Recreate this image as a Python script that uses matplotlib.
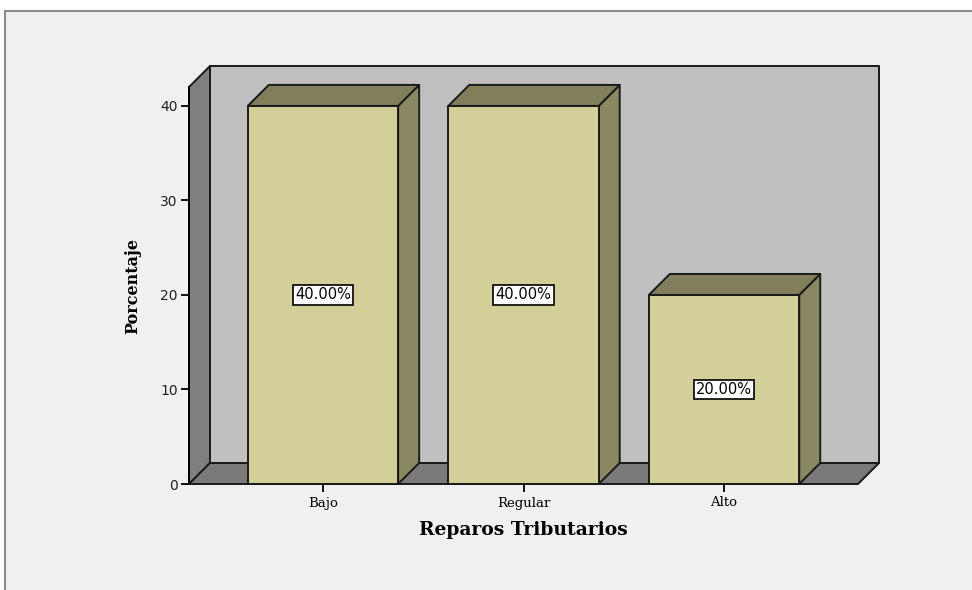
import matplotlib
matplotlib.use("Agg")
import matplotlib.pyplot as plt
from matplotlib.patches import Polygon, Rectangle
from matplotlib.transforms import IdentityTransform

# Reparos tributarios - porcentaje por nivel
categories = ["Bajo", "Regular", "Alto"]
percentages = [40.0, 40.0, 20.0]
y_ticks = [0, 10, 20, 30, 40]

# 3D look: depth of the box in pixels (right, up)
DEPTH_X, DEPTH_Y = 21, 21
BAR_WIDTH = 0.75
X_MIN, X_MAX = -0.668, 2.668
Y_MAX = 42.0

FRONT = "#d3cf98"
TOP = "#807e5b"
SIDE = "#8a8862"

fig = plt.figure(figsize=(9.72, 5.90), dpi=100, facecolor="white")

# light grey chart area with its frame
fig.add_artist(Rectangle((5 / 972, -0.05), 1.1, 1 - 11 / 590 + 0.05,
                         transform=fig.transFigure, facecolor="#f0f0f0",
                         edgecolor="#8a8a8a", linewidth=1.5, zorder=-5))

ax = fig.add_axes([189 / 972, 106 / 590, 669 / 972, 397 / 590])
ax.set_xlim(X_MIN, X_MAX)
ax.set_ylim(0, Y_MAX)
ax.set_autoscale_on(False)
ax.patch.set_visible(False)
for side in ["top", "right", "bottom"]:
    ax.spines[side].set_visible(False)
ax.spines["left"].set_color("black")
ax.spines["left"].set_linewidth(1.3)


def pt(x, y, back=False):
    px, py = ax.transData.transform((x, y))
    if back:
        px += DEPTH_X
        py += DEPTH_Y
    return (px, py)


def face(points, color, z=1):
    poly = Polygon(points, closed=True, facecolor=color, edgecolor="#1a1a1a",
                   linewidth=1.4, transform=IdentityTransform(), zorder=z,
                   clip_on=False, joinstyle="round")
    ax.add_artist(poly)


# back wall, left wall and floor
face([pt(X_MIN, 0, True), pt(X_MAX, 0, True), pt(X_MAX, Y_MAX, True),
      pt(X_MIN, Y_MAX, True)], "#c0c0c0", 0.5)
face([pt(X_MIN, 0), pt(X_MIN, Y_MAX), pt(X_MIN, Y_MAX, True),
      pt(X_MIN, 0, True)], "#7f7f7f", 0.6)
face([pt(X_MIN, 0), pt(X_MAX, 0), pt(X_MAX, 0, True),
      pt(X_MIN, 0, True)], "#7a7a7a", 0.6)

# bars
for i, v in enumerate(percentages):
    x0, x1 = i - BAR_WIDTH / 2, i + BAR_WIDTH / 2
    face([pt(x1, 0), pt(x1, v), pt(x1, v, True), pt(x1, 0, True)], SIDE, 1)
    face([pt(x0, v), pt(x1, v), pt(x1, v, True), pt(x0, v, True)], TOP, 1)
    face([pt(x0, 0), pt(x1, 0), pt(x1, v), pt(x0, v)], FRONT, 1.1)
    ax.text(i, v / 2, f"{v:.2f}%", ha="center", va="center", fontsize=10.5,
            family="DejaVu Sans", color="black", zorder=3,
            bbox=dict(boxstyle="square,pad=0.15", facecolor="white",
                      edgecolor="black", linewidth=1.2))

ax.set_yticks(y_ticks)
ax.set_yticklabels([str(t) for t in y_ticks], fontsize=10, color="#222222")
ax.tick_params(axis="y", direction="out", length=6, width=1.3, pad=2)
ax.set_xticks(range(len(categories)))
ax.set_xticklabels(categories, fontsize=9.5, family="DejaVu Serif")
ax.tick_params(axis="x", direction="out", length=6, width=1.3, pad=3)

ax.set_ylabel("Porcentaje", fontsize=11.5, family="DejaVu Serif",
              fontweight="bold", labelpad=14)
ax.set_xlabel("Reparos Tributarios", fontsize=13.5, family="DejaVu Serif",
              fontweight="bold", labelpad=8)

fig.savefig("out.png", dpi=100, facecolor=fig.get_facecolor())
